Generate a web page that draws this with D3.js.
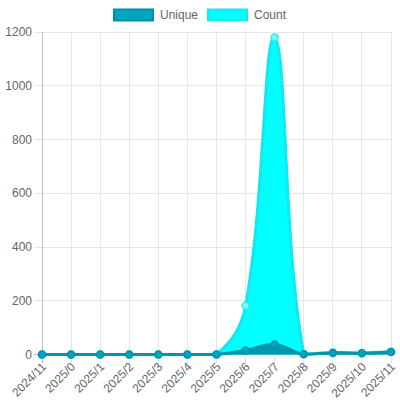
<!DOCTYPE html>
<html><head><meta charset="utf-8">
<script src="https://cdn.jsdelivr.net/npm/d3@7"></script>
<style>body{margin:0;background:#fff}svg{display:block}</style>
</head><body><svg id="c" width="400" height="400"></svg>
<script>
const labels = ["2024/11","2025/0","2025/1","2025/2","2025/3","2025/4","2025/5","2025/6","2025/7","2025/8","2025/9","2025/10","2025/11"];
const uniqueVals = [0,0,0,0,0,0,0,15,37,1,6,5,9];
const countVals  = [0,0,0,0,0,0,0,181,1180,2,7,6,10];
const yTicks = [0,200,400,600,800,1000,1200];
const seriesNames = ["Unique","Count"];

const svg = d3.select("#c");
const L = 42, R = 391, T = 32, B = 354.5;
const x = d3.scalePoint().domain(labels).range([L, R]);
const y = d3.scaleLinear().domain([0,1200]).range([B, T]);
const font = "Liberation Sans, Arial, Helvetica, sans-serif";

const g = svg.append("g");
g.selectAll(".hg").data(yTicks).join("line")
  .attr("x1", L-8).attr("x2", R).attr("y1", d=>y(d)).attr("y2", d=>y(d))
  .attr("stroke", "#e6e6e6").attr("stroke-width",1).attr("shape-rendering","crispEdges");
g.selectAll(".vg").data(labels).join("line")
  .attr("x1", d=>x(d)).attr("x2", d=>x(d)).attr("y1", T).attr("y2", B+8)
  .attr("stroke", (d,i)=> i===0 ? "#bdbdbd" : "#e6e6e6").attr("stroke-width",1).attr("shape-rendering","crispEdges");
g.append("line").attr("x1",L-8).attr("x2",R).attr("y1",y(0)).attr("y2",y(0))
  .attr("stroke","#bdbdbd").attr("shape-rendering","crispEdges");

g.selectAll(".yl").data(yTicks).join("text")
  .attr("x", L-10).attr("y", d=>y(d)).attr("dy","0.35em")
  .attr("text-anchor","end").attr("font-family",font).attr("font-size",12).attr("fill","#666")
  .text(d=>d);
g.selectAll(".xl").data(labels).join("text")
  .attr("transform", d=>`translate(${x(d)+2},${B+10}) rotate(-45)`)
  .attr("text-anchor","end").attr("dy","0.35em")
  .attr("font-family",font).attr("font-size",12).attr("fill","#666")
  .text(d=>d);

function splinePath(vals, tension) {
  const pts = vals.map((v,i)=>({x:x(labels[i]), y:y(v)}));
  const n = pts.length;
  const cap = (v,lo,hi)=>Math.max(lo,Math.min(hi,v));
  pts.forEach((p,i)=>{
    const p0 = pts[Math.max(0,i-1)], p2 = pts[Math.min(n-1,i+1)];
    const d01 = Math.hypot(p.x-p0.x, p.y-p0.y), d12 = Math.hypot(p2.x-p.x, p2.y-p.y);
    let s01 = d01/(d01+d12), s12 = d12/(d01+d12);
    if (isNaN(s01)) s01 = 0; if (isNaN(s12)) s12 = 0;
    const fa = tension*s01, fb = tension*s12;
    p.cpx0 = cap(p.x - fa*(p2.x-p0.x),L,R); p.cpy0 = cap(p.y - fa*(p2.y-p0.y),T,B);
    p.cpx1 = cap(p.x + fb*(p2.x-p0.x),L,R); p.cpy1 = cap(p.y + fb*(p2.y-p0.y),T,B);
  });
  const path = d3.path();
  path.moveTo(pts[0].x, pts[0].y);
  for (let i=1;i<n;i++){
    path.bezierCurveTo(pts[i-1].cpx1, pts[i-1].cpy1, pts[i].cpx0, pts[i].cpy0, pts[i].x, pts[i].y);
  }
  const line = path.toString();
  const area = line + `L${pts[n-1].x},${y(0)}L${pts[0].x},${y(0)}Z`;
  return {line, area};
}

function drawSeries(vals, fill, stroke, ptFill, ptStroke) {
  const s = splinePath(vals, 0.4);
  svg.append("path").attr("d", s.area).attr("fill", fill);
  svg.append("path").attr("d", s.line).attr("fill","none").attr("stroke",stroke).attr("stroke-width",3);
  svg.append("g").selectAll("circle").data(vals).join("circle")
    .attr("cx",(d,i)=>x(labels[i])).attr("cy",d=>y(d)).attr("r",3.5)
    .attr("fill",ptFill).attr("stroke",ptStroke).attr("stroke-width",1.5);
}
drawSeries(countVals, "#00ffff", "#12e9ef", "#7ffcff", "#2af0f4");
drawSeries(uniqueVals, "#0098b4", "#0094ae", "#00a3bf", "#0092ac");

const leg = svg.append("g");
const legItems = [{name:seriesNames[0], x:113, fill:"#00a5c0", stroke:"#0090a8"},
                  {name:seriesNames[1], x:207, fill:"#00ffff", stroke:"#1ae6ee"}];
legItems.forEach(it=>{
  leg.append("rect").attr("x",it.x+1).attr("y",9.5).attr("width",39).attr("height",11)
    .attr("fill",it.fill).attr("stroke",it.stroke).attr("stroke-width",2);
  leg.append("text").attr("x",it.x+47).attr("y",15).attr("dy","0.35em")
    .attr("font-family",font).attr("font-size",12).attr("fill","#666").text(it.name);
});
</script></body></html>
